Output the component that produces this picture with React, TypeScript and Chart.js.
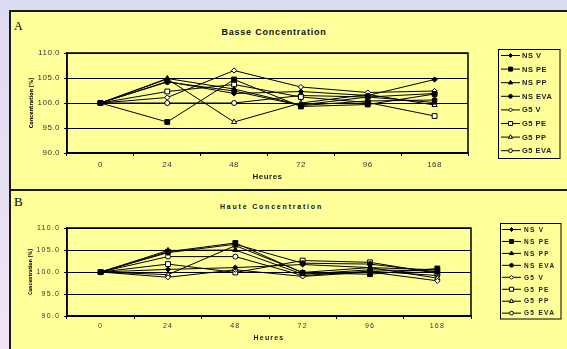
import React, { useEffect, useRef } from 'react';
import { Chart, registerables } from 'chart.js';

Chart.register(...registerables);
Chart.defaults.font.family = "'Liberation Sans', Arial, sans-serif";

// ---- data ----
const hours = ['0', '24', '48', '72', '96', '168'];
const seriesNames = ['NS V', 'NS PE', 'NS PP', 'NS EVA', 'G5 V', 'G5 PE', 'G5 PP', 'G5 EVA'];
const yTickValues = [90, 95, 100, 105, 110];
const yAxisTitle = 'Concentration [%]';
const xAxisTitle = 'Heures';

// Panel A : Basse Concentration
const basseNSV = [100, 104.3, 101.9, 102.3, 101.5, 104.7];
const basseNSPE = [100, 96.2, 104.7, 99.3, 99.7, 101.8];
const basseNSPP = [100, 104.9, 102.8, 99.6, 101.2, 100.1];
const basseNSEVA = [100, 104.2, 102.4, 99.5, 100.4, 100.6];
const basseG5V = [100, 101.1, 106.5, 103.2, 102.1, 102.4];
const basseG5PE = [100, 102.3, 103.7, 101.2, 100.1, 97.4];
const basseG5PP = [100, 104.8, 96.2, 100.0, 101.7, 99.6];
const basseG5EVA = [100, 100.0, 100.0, 101.5, 101.2, 101.9];

// Panel B : Haute Concentration
const hauteNSV = [100, 100.6, 101.0, 101.7, 101.0, 100.5];
const hauteNSPE = [100, 104.6, 106.6, 99.8, 99.5, 100.8];
const hauteNSPP = [100, 104.9, 105.0, 99.5, 100.5, 100.2];
const hauteNSEVA = [100, 104.4, 106.3, 102.0, 101.8, 100.0];
const hauteG5V = [100, 98.8, 100.5, 99.0, 100.0, 98.0];
const hauteG5PE = [100, 101.8, 99.9, 102.6, 102.2, 99.7];
const hauteG5PP = [100, 99.4, 106.0, 99.9, 101.0, 98.6];
const hauteG5EVA = [100, 103.5, 103.5, 99.2, 100.2, 99.2];

const basseData = [basseNSV, basseNSPE, basseNSPP, basseNSEVA, basseG5V, basseG5PE, basseG5PP, basseG5EVA];
const hauteData = [hauteNSV, hauteNSPE, hauteNSPP, hauteNSEVA, hauteG5V, hauteG5PE, hauteG5PP, hauteG5EVA];

// ---- styles ----
const markerStyles = ['rectRot', 'rect', 'triangle', 'circle', 'rectRot', 'rect', 'triangle', 'circle'];
const markerFilled = [true, true, true, true, false, false, false, false];
const markerRadii = [2.6, 3.4, 3, 2.5, 2.6, 3.4, 3, 2.5];

type Spec = {
  top: number;
  height: number;
  padLeft: number;
  padRight: number;
  padTop: number;
  yWidth: number;
  xHeight: number;
  tickFont: number;
  spacing: string;
  xTickPad: number;
  yTickPad: number;
  xTitleFont: number;
  xTitlePadBottom: number;
  yTitleX: number;
  yTitleFont: string;
  legend: {
    x: number; y: number; w: number; h: number;
    firstY: number; step: number;
    lineX1: number; lineX2: number; textX: number;
    font: string; spacing: string;
  };
};

const specA: Spec = {
  top: 0,
  height: 189,
  padLeft: 28,
  padRight: 99,
  padTop: 53,
  yWidth: 39,
  xHeight: 36,
  tickFont: 8,
  spacing: '0.5px',
  xTickPad: 4,
  yTickPad: 4,
  xTitleFont: 8,
  xTitlePadBottom: 7.5,
  yTitleX: 32,
  yTitleFont: "bold 5.5px 'Liberation Sans Narrow', 'DejaVu Sans Condensed', 'Liberation Sans', sans-serif",
  legend: {
    x: 498.5, y: 49.5, w: 61.5, h: 109,
    firstY: 55.5, step: 13.6,
    lineX1: 501, lineX2: 520, textX: 522,
    font: "bold 7.5px 'Liberation Sans', Arial, sans-serif", spacing: '0.5px',
  },
};

const specB: Spec = {
  top: 189,
  height: 160,
  padLeft: 28,
  padRight: 96,
  padTop: 39,
  yWidth: 39,
  xHeight: 33,
  tickFont: 7,
  spacing: '1.2px',
  xTickPad: 3,
  yTickPad: 4,
  xTitleFont: 7,
  xTitlePadBottom: 6.5,
  yTitleX: 31,
  yTitleFont: "bold 5px 'Liberation Sans Narrow', 'DejaVu Sans Condensed', 'Liberation Sans', sans-serif",
  legend: {
    x: 500.5, y: 34.5, w: 60.5, h: 95.5,
    firstY: 40.5, step: 11.95,
    lineX1: 502, lineX2: 521, textX: 524,
    font: "bold 6.5px 'Liberation Sans', Arial, sans-serif", spacing: '1.3px',
  },
};

function drawMarker(ctx: CanvasRenderingContext2D, style: string, x: number, y: number, r: number, filled: boolean) {
  ctx.beginPath();
  if (style === 'circle') {
    ctx.arc(x, y, r, 0, Math.PI * 2);
  } else if (style === 'rect') {
    const s = r * Math.SQRT1_2;
    ctx.rect(x - s, y - s, 2 * s, 2 * s);
  } else if (style === 'rectRot') {
    ctx.moveTo(x, y - r);
    ctx.lineTo(x + r, y);
    ctx.lineTo(x, y + r);
    ctx.lineTo(x - r, y);
    ctx.closePath();
  } else if (style === 'triangle') {
    ctx.moveTo(x, y - r);
    ctx.lineTo(x + r * 0.87, y + r * 0.5);
    ctx.lineTo(x - r * 0.87, y + r * 0.5);
    ctx.closePath();
  }
  ctx.fillStyle = filled ? '#000' : '#fff';
  ctx.fill();
  ctx.strokeStyle = '#000';
  ctx.lineWidth = 1;
  ctx.stroke();
}

function PanelChart({ data, spec }: { data: number[][]; spec: Spec }) {
  const ref = useRef<HTMLCanvasElement>(null);
  useEffect(() => {
    const canvas = ref.current;
    if (!canvas) return;

    const spacingPlugin = {
      id: 'spacing',
      beforeDraw(chart: any) {
        (chart.ctx as any).letterSpacing = spec.spacing;
      },
    };
    const framePlugin = {
      id: 'frame',
      beforeDatasetsDraw(chart: any) {
        const { ctx, chartArea } = chart;
        ctx.save();
        ctx.strokeStyle = '#000';
        ctx.lineWidth = 1.5;
        ctx.strokeRect(chartArea.left, chartArea.top, chartArea.right - chartArea.left, chartArea.bottom - chartArea.top);
        ctx.restore();
      },
    };
    const yTitlePlugin = {
      id: 'yTitle',
      afterDraw(chart: any) {
        const ctx: CanvasRenderingContext2D = chart.ctx;
        const { chartArea } = chart;
        ctx.save();
        (ctx as any).letterSpacing = '0px';
        ctx.translate(spec.yTitleX, (chartArea.top + chartArea.bottom) / 2);
        ctx.rotate(-Math.PI / 2);
        ctx.font = spec.yTitleFont;
        ctx.fillStyle = '#000';
        ctx.textAlign = 'center';
        ctx.textBaseline = 'middle';
        ctx.fillText(yAxisTitle, 0, 0);
        ctx.restore();
      },
    };
    const legendPlugin = {
      id: 'boxLegend',
      afterDraw(chart: any) {
        const ctx: CanvasRenderingContext2D = chart.ctx;
        const lg = spec.legend;
        ctx.save();
        (ctx as any).letterSpacing = lg.spacing;
        ctx.strokeStyle = '#000';
        ctx.lineWidth = 1;
        ctx.strokeRect(lg.x, lg.y, lg.w, lg.h);
        chart.data.datasets.forEach((ds: any, i: number) => {
          const y = lg.firstY + i * lg.step;
          ctx.beginPath();
          ctx.moveTo(lg.lineX1, y);
          ctx.lineTo(lg.lineX2, y);
          ctx.strokeStyle = '#000';
          ctx.lineWidth = 1;
          ctx.stroke();
          drawMarker(ctx, markerStyles[i], (lg.lineX1 + lg.lineX2) / 2, y, Math.max(1.8, markerRadii[i] - 0.6), markerFilled[i]);
          ctx.fillStyle = '#222';
          ctx.font = lg.font;
          ctx.textAlign = 'left';
          ctx.textBaseline = 'middle';
          ctx.fillText(ds.label, lg.textX, y + 0.5);
        });
        ctx.restore();
      },
    };

    const chart = new Chart(canvas, {
      type: 'line',
      data: {
        labels: hours,
        datasets: seriesNames.map((name, i) => ({
          label: name,
          data: data[i],
          borderColor: '#000',
          borderWidth: 1,
          pointStyle: markerStyles[i] as any,
          pointRadius: markerRadii[i],
          pointBackgroundColor: markerFilled[i] ? '#000' : '#fff',
          pointBorderColor: '#000',
          pointBorderWidth: 1,
          tension: 0,
          fill: false,
        })),
      },
      options: {
        animation: false,
        responsive: false,
        devicePixelRatio: 1,
        layout: { padding: { left: spec.padLeft, right: spec.padRight, top: spec.padTop, bottom: 0 } },
        plugins: {
          legend: { display: false },
          tooltip: { enabled: false },
          title: { display: false },
        },
        scales: {
          x: {
            type: 'category',
            offset: true,
            grid: { offset: true, drawOnChartArea: false, color: '#000', tickLength: 3, tickColor: '#000' },
            border: { color: '#000', width: 1.5 },
            ticks: {
              color: '#333',
              font: { size: spec.tickFont },
              padding: spec.xTickPad,
              maxRotation: 0,
              autoSkip: false,
            },
            title: {
              display: true,
              text: xAxisTitle,
              color: '#222',
              font: { size: spec.xTitleFont, weight: 'bold' },
              padding: { top: 0, bottom: spec.xTitlePadBottom },
            },
            afterFit: (s: any) => {
              s.height = spec.xHeight;
            },
          },
          y: {
            min: 90,
            max: 110,
            afterBuildTicks: (s: any) => {
              s.ticks = yTickValues.map((v) => ({ value: v }));
            },
            grid: { color: '#000', lineWidth: 1, tickLength: 3, tickColor: '#000' },
            border: { color: '#000', width: 1.5 },
            ticks: {
              color: '#333',
              font: { size: spec.tickFont },
              padding: spec.yTickPad,
              callback: (v: any) => Number(v).toFixed(1),
            },
            title: { display: false },
            afterFit: (s: any) => {
              s.width = spec.yWidth;
            },
          },
        },
      } as any,
      plugins: [spacingPlugin, framePlugin, yTitlePlugin, legendPlugin],
    });
    return () => chart.destroy();
  }, [data, spec]);

  return (
    <canvas
      ref={ref}
      width={567}
      height={spec.height}
      style={{ position: 'absolute', left: 0, top: spec.top, width: 567, height: spec.height }}
    />
  );
}

export default function App() {
  const yellow = '#ffff99';
  return (
    <div
      style={{
        position: 'absolute',
        left: 0,
        top: 0,
        width: 567,
        height: 349,
        overflow: 'hidden',
        background: 'linear-gradient(to bottom, #dcdcf0 0%, #e6e0f2 50%, #f3e4f4 100%)',
      }}
    >
      <div
        style={{
          position: 'absolute',
          left: 9,
          top: 10,
          width: 620,
          height: 177,
          background: yellow,
          borderLeft: '2px solid #1a1a1a',
          borderTop: '2px solid #1a1a1a',
          borderBottom: '2px solid #1a1a1a',
        }}
      />
      <div
        style={{
          position: 'absolute',
          left: 9,
          top: 191,
          width: 620,
          height: 200,
          background: yellow,
          borderLeft: '2px solid #1a1a1a',
        }}
      />
      <div
        style={{
          position: 'absolute',
          left: 14,
          top: 19.6,
          fontFamily: "'Liberation Serif', 'Times New Roman', serif",
          fontSize: 12,
          lineHeight: '12px',
          color: '#000',
        }}
      >
        A
      </div>
      <div
        style={{
          position: 'absolute',
          left: 14,
          top: 195,
          fontFamily: "'Liberation Serif', 'Times New Roman', serif",
          fontSize: 13,
          lineHeight: '13px',
          color: '#000',
        }}
      >
        B
      </div>
      <div
        style={{
          position: 'absolute',
          left: 0,
          width: 548,
          top: 27.4,
          textAlign: 'center',
          fontFamily: "'Liberation Sans', Arial, sans-serif",
          fontWeight: 'bold',
          fontSize: 9,
          lineHeight: '10px',
          letterSpacing: '0.8px',
          color: '#111',
        }}
      >
        Basse Concentration
      </div>
      <div
        style={{
          position: 'absolute',
          left: 0,
          width: 543,
          top: 201.8,
          textAlign: 'center',
          fontFamily: "'Liberation Sans', Arial, sans-serif",
          fontWeight: 'bold',
          fontSize: 7,
          lineHeight: '10px',
          letterSpacing: '1.8px',
          color: '#111',
        }}
      >
        Haute Concentration
      </div>
      <PanelChart data={basseData} spec={specA} />
      <PanelChart data={hauteData} spec={specB} />
    </div>
  );
}
